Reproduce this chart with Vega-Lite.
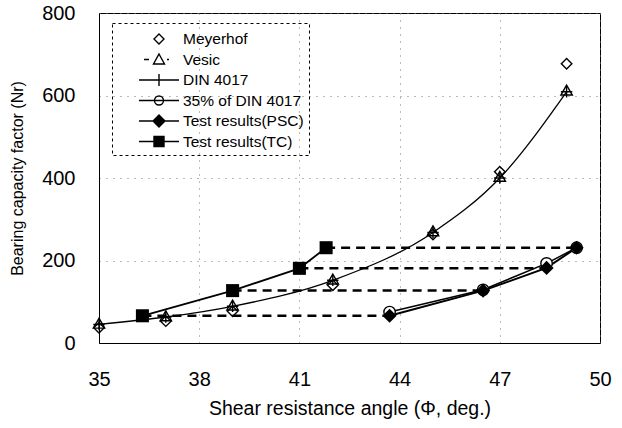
{
  "$schema": "https://vega.github.io/schema/vega-lite/v6.json",
  "width": 501,
  "height": 330,
  "autosize": {"type": "none"},
  "padding": {"left": 99, "top": 13, "right": 22, "bottom": 85},
  "background": "white",
  "config": {
    "view": {"stroke": "black", "strokeWidth": 1},
    "font": "Liberation Sans",
    "axis": {
      "labelFont": "Liberation Sans", "titleFont": "Liberation Sans",
      "labelFontSize": 20, "titleFontWeight": "normal",
      "labelColor": "black", "titleColor": "black",
      "domainColor": "black", "ticks": false, "labelFlush": false,
      "gridColor": "#777", "gridDash": [1, 6], "gridWidth": 1
    }
  },
  "datasets": {
    "pts": [
      {"series": "DIN 4017", "phi": 35, "N": 45},
      {"series": "DIN 4017", "phi": 37, "N": 63},
      {"series": "DIN 4017", "phi": 39, "N": 89},
      {"series": "DIN 4017", "phi": 42, "N": 152},
      {"series": "DIN 4017", "phi": 45, "N": 268},
      {"series": "DIN 4017", "phi": 47, "N": 400},
      {"series": "DIN 4017", "phi": 49, "N": 609},
      {"series": "Vesic", "phi": 35, "N": 48},
      {"series": "Vesic", "phi": 37, "N": 66},
      {"series": "Vesic", "phi": 39, "N": 92},
      {"series": "Vesic", "phi": 42, "N": 155},
      {"series": "Vesic", "phi": 45, "N": 272},
      {"series": "Vesic", "phi": 47, "N": 404},
      {"series": "Vesic", "phi": 49, "N": 613},
      {"series": "Meyerhof", "phi": 35, "N": 37},
      {"series": "Meyerhof", "phi": 37, "N": 53},
      {"series": "Meyerhof", "phi": 39, "N": 77},
      {"series": "Meyerhof", "phi": 42, "N": 140},
      {"series": "Meyerhof", "phi": 45, "N": 263},
      {"series": "Meyerhof", "phi": 47, "N": 415},
      {"series": "Meyerhof", "phi": 49, "N": 677},
      {"series": "35% of DIN 4017", "phi": 43.7, "N": 75},
      {"series": "35% of DIN 4017", "phi": 46.5, "N": 129},
      {"series": "35% of DIN 4017", "phi": 48.4, "N": 193},
      {"series": "35% of DIN 4017", "phi": 49.3, "N": 231},
      {"series": "Test results(PSC)", "phi": 43.7, "N": 66},
      {"series": "Test results(PSC)", "phi": 46.5, "N": 127},
      {"series": "Test results(PSC)", "phi": 48.4, "N": 182},
      {"series": "Test results(PSC)", "phi": 49.3, "N": 231},
      {"series": "Test results(TC)", "phi": 36.3, "N": 66},
      {"series": "Test results(TC)", "phi": 39.0, "N": 127},
      {"series": "Test results(TC)", "phi": 41.0, "N": 181},
      {"series": "Test results(TC)", "phi": 41.8, "N": 231}
    ],
    "dash": [
      {"pair": 1, "phi": 36.3, "N": 66}, {"pair": 1, "phi": 43.7, "N": 66},
      {"pair": 2, "phi": 39.0, "N": 127}, {"pair": 2, "phi": 46.5, "N": 127},
      {"pair": 3, "phi": 41.0, "N": 181}, {"pair": 3, "phi": 48.4, "N": 181},
      {"pair": 4, "phi": 41.8, "N": 231}, {"pair": 4, "phi": 49.3, "N": 231}
    ]
  },
  "encoding": {
    "x": {"field": "phi", "type": "quantitative",
      "scale": {"domain": [35, 50], "nice": false, "zero": false},
      "axis": {"title": "Shear resistance angle (Φ, deg.)", "titleFontSize": 19.5, "values": [35, 38, 41, 44, 47, 50], "labelPadding": 26, "titlePadding": 10, "grid": true}},
    "y": {"field": "N", "type": "quantitative",
      "scale": {"domain": [0, 800], "nice": false},
      "axis": {"title": "Bearing capacity factor (Nr)", "titleFontSize": 16, "values": [0, 200, 400, 600, 800], "labelPadding": 24, "titlePadding": 16, "grid": true}}
  },
  "layer": [
    {
      "data": {"name": "dash"},
      "mark": {"type": "line", "color": "black", "strokeWidth": 2.5, "strokeDash": [9, 6]},
      "encoding": {"detail": {"field": "pair"}}
    },
    {
      "data": {"name": "pts"},
      "transform": [{"filter": "datum.series === 'DIN 4017'"}],
      "mark": {"type": "line", "color": "black", "strokeWidth": 1.3, "interpolate": "monotone"}
    },
    {
      "data": {"name": "pts"},
      "transform": [{"filter": "datum.series === '35% of DIN 4017'"}],
      "mark": {"type": "line", "color": "black", "strokeWidth": 1.5}
    },
    {
      "data": {"name": "pts"},
      "transform": [{"filter": "datum.series === 'Test results(PSC)'"}],
      "mark": {"type": "line", "color": "black", "strokeWidth": 2}
    },
    {
      "data": {"name": "pts"},
      "transform": [{"filter": "datum.series === 'Test results(TC)'"}],
      "mark": {"type": "line", "color": "black", "strokeWidth": 1.8}
    },
    {
      "data": {"name": "pts"},
      "transform": [{"filter": "datum.series === 'Meyerhof'"}],
      "mark": {"type": "point", "shape": "diamond", "size": 110, "filled": false, "color": "black", "strokeWidth": 1.4, "opacity": 1}
    },
    {
      "data": {"name": "pts"},
      "transform": [{"filter": "datum.series === 'Vesic'"}],
      "mark": {"type": "point", "shape": "triangle-up", "size": 130, "filled": false, "color": "black", "strokeWidth": 1.4, "opacity": 1}
    },
    {
      "data": {"name": "pts"},
      "transform": [{"filter": "datum.series === 'DIN 4017'"}],
      "mark": {"type": "point", "shape": "M-1,0H1M0,-1V1", "size": 130, "filled": false, "color": "black", "strokeWidth": 1.4, "opacity": 1}
    },
    {
      "data": {"name": "pts"},
      "transform": [{"filter": "datum.series === '35% of DIN 4017'"}],
      "mark": {"type": "point", "shape": "circle", "size": 130, "filled": true, "fill": "white", "stroke": "black", "strokeWidth": 1.4, "opacity": 1}
    },
    {
      "data": {"name": "pts"},
      "transform": [{"filter": "datum.series === 'Test results(PSC)'"}],
      "mark": {"type": "point", "shape": "diamond", "size": 200, "filled": true, "color": "black", "opacity": 1}
    },
    {
      "data": {"name": "pts"},
      "transform": [{"filter": "datum.series === 'Test results(TC)'"}],
      "mark": {"type": "point", "shape": "square", "size": 170, "filled": true, "color": "black", "opacity": 1}
    },
    {
      "data": {"name": "pts"},
      "mark": {"type": "point", "filled": true, "stroke": "black", "opacity": 0},
      "encoding": {
        "shape": {"field": "series", "type": "nominal",
          "scale": {
            "domain": ["Meyerhof", "Vesic", "DIN 4017", "35% of DIN 4017", "Test results(PSC)", "Test results(TC)"],
            "range": [
              "M3.1,-0.5L3.6,0L3.1,0.5L2.6,0Z",
              "M1.6,0H2.1M3.9,0H4.1M3.1,-0.55L3.65,0.45H2.55Z",
              "M1.1,0H5.1M3.1,-0.6V0.6",
              "M1.1,0H5.1M3.55,0A0.45,0.45,0,1,1,2.65,0A0.45,0.45,0,1,1,3.55,0Z",
              "M1.1,0H5.1M3.1,-0.6L3.7,0L3.1,0.6L2.5,0Z",
              "M1.1,0H5.1M2.6,-0.5H3.6V0.5H2.6Z"
            ]},
          "legend": {
            "title": null, "orient": "none", "legendX": 13, "legendY": 10,
            "symbolSize": 400, "symbolStrokeWidth": 1.4, "symbolOpacity": 1, "symbolStrokeColor": "black",
            "labelFont": "Liberation Sans", "labelFontSize": 15.5, "labelColor": "black", "labelOffset": 44,
            "padding": 5, "rowPadding": 0.5, "strokeColor": "black",
            "encode": {"legend": {"update": {"strokeDash": {"value": [3, 3]}, "strokeWidth": {"value": 1}}}}
          }
        },
        "fill": {"field": "series", "type": "nominal",
          "scale": {
            "domain": ["Meyerhof", "Vesic", "DIN 4017", "35% of DIN 4017", "Test results(PSC)", "Test results(TC)"],
            "range": ["white", "white", "white", "white", "black", "black"]},
          "legend": {
            "title": null, "orient": "none", "legendX": 13, "legendY": 10,
            "symbolSize": 400, "symbolStrokeWidth": 1.4, "symbolOpacity": 1, "symbolStrokeColor": "black",
            "labelFont": "Liberation Sans", "labelFontSize": 15.5, "labelColor": "black", "labelOffset": 44,
            "padding": 5, "rowPadding": 0.5, "strokeColor": "black",
            "encode": {"legend": {"update": {"strokeDash": {"value": [3, 3]}, "strokeWidth": {"value": 1}}}}
          }
        }
      }
    }
  ]
}
